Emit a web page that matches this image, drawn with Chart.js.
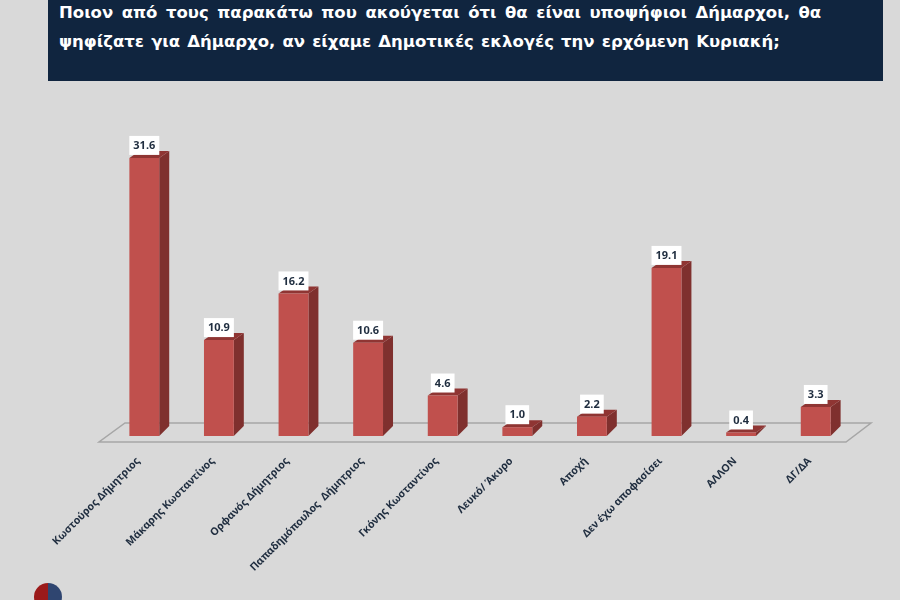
<!DOCTYPE html>
<html lang="el"><head><meta charset="utf-8">
<style>
html,body{margin:0;padding:0;background:#d9d9d9;overflow:hidden}
#wrap{position:relative;width:900px;height:600px;overflow:hidden;background:#d9d9d9}
#head{position:absolute;left:48px;top:-2px;width:835px;height:83px;background:#10253f;color:#fff;font:bold 16.5px "DejaVu Sans",sans-serif;line-height:29px;box-sizing:border-box;padding:0 0 0 11px;white-space:nowrap}
#head span{display:block}
#logo{position:absolute;left:34px;top:583px;width:28px;height:28px;border-radius:50%;background:linear-gradient(90deg,#9b1a1a 0 50%,#2f4570 50% 100%)}
canvas{position:absolute;left:0;top:0}
</style></head><body>
<div id="wrap">
<canvas id="c" width="900" height="600"></canvas>
<div id="head"><span style="word-spacing:2.8px">Ποιον από τους παρακάτω που ακούγεται ότι θα είναι υποψήφιοι Δήμαρχοι, θα</span><span style="word-spacing:1.4px">ψηφίζατε για Δήμαρχο, αν είχαμε Δημοτικές εκλογές την ερχόμενη Κυριακή;</span></div>
<div id="logo"></div>
</div>
<script src="https://cdn.jsdelivr.net/npm/chart.js@4/dist/chart.umd.min.js"></script>
<script>
const categories = ["Κωστούρος Δήμητριος","Μάκαρης Κωσταντίνος","Ορφανός Δήμητριος","Παπαδημόπουλος  Δήμητριος","Γκόνης Κωσταντίνος","Λευκό/ Άκυρο","Αποχή","Δεν έχω αποφασίσει","ΑΛΛΟΝ","ΔΓ/ΔΑ"];
const values = [31.6,10.9,16.2,10.6,4.6,1.0,2.2,19.1,0.4,3.3];
const FRONT = "#c0504d", SIDE = "#7f302e", TOP = "#8f3533", FLOOR = "#a6a6a6", INK = "#1f2d3f";

const floorPlugin = {
  id:"floor",
  beforeDatasetsDraw(chart){
    const {ctx,scales:{x,y}} = chart, y0 = y.getPixelForValue(0);
    ctx.save();
    ctx.strokeStyle = FLOOR; ctx.lineWidth = 1.5;
    ctx.beginPath();
    ctx.moveTo(x.left-8,y0+6); ctx.lineTo(x.right-7,y0+6);
    ctx.lineTo(x.right+18,y0-13); ctx.lineTo(x.left+18,y0-13);
    ctx.closePath(); ctx.stroke();
    ctx.restore();
  }
};
const depthPlugin = {
  id:"depth",
  beforeDatasetDraw(chart){
    const {ctx} = chart;
    ctx.save();
    chart.getDatasetMeta(0).data.forEach(b=>{
      const l=b.x-b.width/2, r=b.x+b.width/2, t=b.y, bt=b.base;
      const dx=10, dt=7, db=10;
      ctx.fillStyle=SIDE;
      ctx.beginPath();ctx.moveTo(r,t);ctx.lineTo(r+dx,t-dt);ctx.lineTo(r+dx,Math.max(bt-db,t-dt));ctx.lineTo(r,bt);ctx.closePath();ctx.fill();
      ctx.fillStyle=TOP;
      ctx.beginPath();ctx.moveTo(l,t);ctx.lineTo(l+dx,t-dt);ctx.lineTo(r+dx,t-dt);ctx.lineTo(r,t);ctx.closePath();ctx.fill();
    });
    ctx.restore();
  },
  afterDatasetsDraw(chart){
    const {ctx} = chart;
    ctx.save();
    ctx.font='bold 11px "Noto Sans",sans-serif';
    ctx.textAlign='center';ctx.textBaseline='middle';
    chart.getDatasetMeta(0).data.forEach((b,i)=>{
      const txt=values[i].toFixed(1), w=ctx.measureText(txt).width+8,h=19,cx=b.x,top=b.y-22;
      ctx.fillStyle="#ffffff";ctx.fillRect(cx-w/2,top,w,h);
      ctx.fillStyle=INK;ctx.fillText(txt,cx,top+h/2+0.5);
    });
    ctx.restore();
  }
};
new Chart(document.getElementById("c"),{
  type:"bar",
  data:{labels:categories,datasets:[{data:values,backgroundColor:FRONT,borderWidth:0,barPercentage:0.4,categoryPercentage:1}]},
  plugins:[floorPlugin,depthPlugin],
  options:{
    responsive:false,animation:false,
    layout:{padding:{left:107,right:47,top:128,bottom:0}},
    plugins:{legend:{display:false},tooltip:{enabled:false},title:{display:false}},
    scales:{
      x:{
        grid:{display:false,drawTicks:false},border:{display:false},
        afterFit(s){s.height=164;},
        ticks:{minRotation:45,maxRotation:45,autoSkip:false,padding:19,labelOffset:-6,color:INK,font:{family:'"Noto Sans",sans-serif',size:10.5,weight:"bold"}}
      },
      y:{display:false,min:0,max:35}
    }
  }
});
</script>
</body></html>
